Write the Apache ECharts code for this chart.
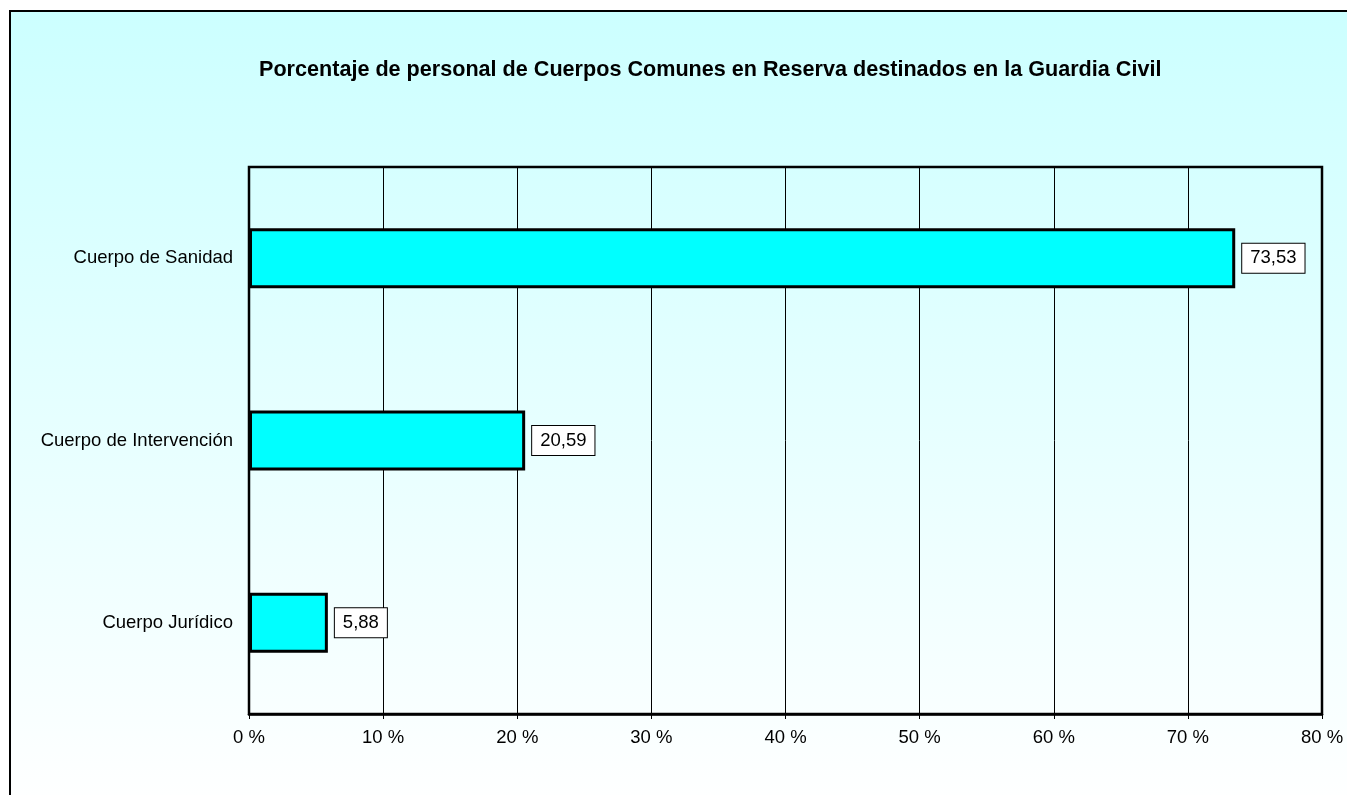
<!DOCTYPE html>
<html>
<head>
<meta charset="utf-8">
<script src="https://cdn.jsdelivr.net/npm/echarts@6/dist/echarts.min.js"></script>
<style>
  html, body { margin: 0; padding: 0; background: #fff; }
  #chart { width: 1347px; height: 795px; }
</style>
</head>
<body>
<div id="chart"></div>
<script>
// data
const categories = ['Cuerpo de Sanidad', 'Cuerpo de Intervención', 'Cuerpo Jurídico']
const percentages = [73.53, 20.59, 5.88]
const xTicks = { min: 0, max: 80, step: 10 }

const font = 'Arial, "Liberation Sans", sans-serif'
const chart = echarts.init(document.getElementById('chart'))

chart.setOption({
  animation: false,
  textStyle: { fontFamily: font },
  graphic: [{
    type: 'rect',
    z: -10,
    shape: { x: 10, y: 11, width: 1400, height: 800 },
    style: {
      fill: new echarts.graphic.LinearGradient(0, 0, 0, 1, [
        { offset: 0, color: '#ccffff' },
        { offset: 1, color: '#ffffff' }
      ]),
      stroke: '#000',
      lineWidth: 2
    }
  }],
  title: {
    text: 'Porcentaje de personal de Cuerpos Comunes en Reserva destinados en la Guardia Civil',
    left: 254,
    top: 54,
    textStyle: { fontFamily: font, fontSize: 21.6, fontWeight: 'bold', color: '#000' }
  },
  grid: {
    left: 249, top: 167, right: 25, bottom: 81,
    show: true,
    borderColor: '#000',
    borderWidth: 2.5,
    backgroundColor: 'transparent'
  },
  xAxis: {
    type: 'value',
    min: xTicks.min,
    max: xTicks.max,
    interval: xTicks.step,
    axisLine: { show: true, lineStyle: { color: '#000', width: 2.5 } },
    axisTick: { show: true, length: 5, lineStyle: { color: '#000' } },
    splitLine: { show: true, lineStyle: { color: '#000', width: 1 } },
    axisLabel: { formatter: '{value} %', color: '#000', fontSize: 18.5, fontFamily: font, margin: 14 }
  },
  yAxis: {
    type: 'category',
    inverse: true,
    data: categories,
    axisLine: { show: false },
    axisTick: { show: false },
    axisLabel: { color: '#000', fontSize: 18.5, fontFamily: font, margin: 16 }
  },
  series: [{
    type: 'bar',
    data: percentages,
    barWidth: 60,
    itemStyle: { color: '#00ffff', borderColor: '#000', borderWidth: 3 },
    label: {
      show: true,
      position: 'right',
      distance: 7,
      formatter: p => p.value.toFixed(2).replace('.', ','),
      color: '#000',
      fontSize: 18.5,
      fontFamily: font,
      backgroundColor: '#fff',
      borderColor: '#000',
      borderWidth: 1,
      padding: [5, 8]
    }
  }]
})
</script>
</body>
</html>
